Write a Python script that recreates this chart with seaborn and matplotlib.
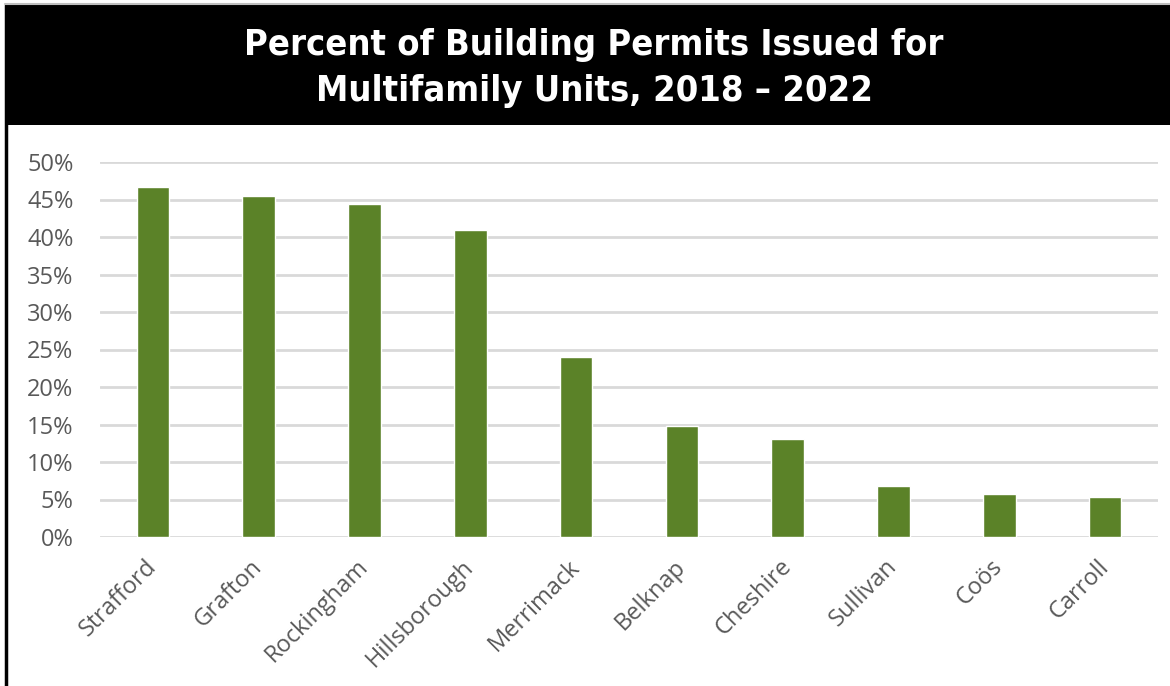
import matplotlib
matplotlib.use("Agg")
import matplotlib.pyplot as plt
import seaborn as sns
import pandas as pd
from matplotlib.patches import Rectangle
from matplotlib.lines import Line2D

counties = ["Strafford", "Grafton", "Rockingham", "Hillsborough", "Merrimack",
            "Belknap", "Cheshire", "Sullivan", "Coös", "Carroll"]
pct = [46.7, 45.5, 44.4, 40.9, 24.0, 14.8, 13.1, 6.8, 5.7, 5.3]
yticks = [0, 5, 10, 15, 20, 25, 30, 35, 40, 45, 50]
title = "Percent of Building Permits Issued for\nMultifamily Units, 2018 – 2022"

df = pd.DataFrame({"county": counties, "pct": pct})

sns.set_theme(style="white")
plt.rcParams['font.family'] = ['Open Sans', 'DejaVu Sans']

W, H = 1170, 686
fig = plt.figure(figsize=(W/100, H/100), dpi=100)
fig.patch.set_facecolor("white")

ax = fig.add_axes([100/W, 1-537/H, 1058/W, 375/H])
sns.barplot(data=df, x="county", y="pct", color="#5B8228", width=0.31,
            saturation=1, ax=ax, zorder=3)
ax.set_xlim(-0.5, 9.5)
ax.set_ylim(0, 50)
ax.set_yticks(yticks)
ax.set_yticklabels([f"{t}%" for t in yticks], color="#595959", fontsize=17)
ax.set_xticks(range(len(counties)))
ax.set_xticklabels(counties, rotation=45, ha="right", va="center",
                   rotation_mode="anchor", color="#595959", fontsize=17)
ax.tick_params(axis="x", pad=19, length=0)
ax.tick_params(axis="y", pad=19, length=0)
ax.grid(axis="y", color="#D9D9D9", linewidth=2, zorder=0)
for s in ax.spines.values():
    s.set_visible(False)
ax.set_xlabel("")
ax.set_ylabel("")

# title banner
fig.patches.append(Rectangle((5/W, 1-125/H), 1 - 5/W, 120/H, transform=fig.transFigure,
                             facecolor="black", edgecolor="none", zorder=0))
fig.lines.append(Line2D([6/W, 6/W], [0, 1-5/H], transform=fig.transFigure,
                        color="black", linewidth=2.5))
fig.lines.append(Line2D([5/W, 1], [1-4/H, 1-4/H], transform=fig.transFigure,
                        color="#BFBFBF", linewidth=1.5))
fig.text(594/W, 1-68/H, title, ha="center", va="center", color="white",
         fontsize=26, fontweight="bold", linespacing=1.45, fontstretch="condensed",
         family=['DejaVu Sans'])

fig.savefig("out.png", dpi=100)
